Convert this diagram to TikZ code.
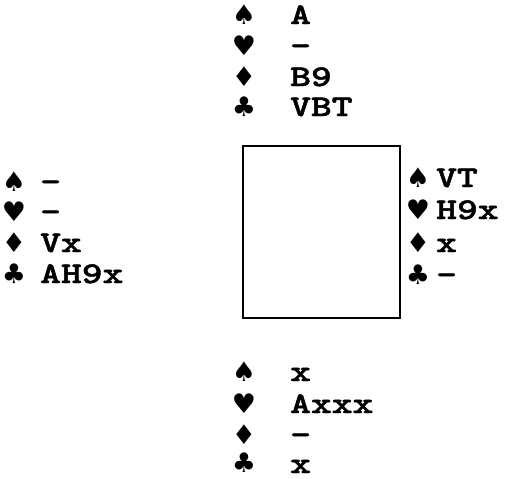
\documentclass[tikz,border=0pt]{standalone}
\usepackage{fontspec}
\newfontfamily\suitfont{DejaVu Sans}
\newfontfamily\handfont[FakeStretch=1.32,FakeBold=1.6]{lmmonolt10-bold.otf}
\begin{document}
\begin{tikzpicture}[x=1pt,y=-1pt,
  suit/.style={inner sep=0pt,anchor=center,font=\suitfont\fontsize{27}{27}\selectfont},
  hand/.style={inner sep=0pt,anchor=base west,font=\handfont\fontsize{30}{30}\selectfont},
  tablebox/.style={draw,line width=1.7pt,minimum width=157pt,minimum height=172pt,inner sep=0pt}]
\useasboundingbox (0,0) rectangle (509,479);
\node[tablebox] (table) at (321.5,232) {};
% North
\node[suit] (ns) at (244,15) {♠};
\node[suit] (nh) at (244,46) {♥};
\node[suit] (nd) at (244,77) {♦};
\node[suit] (nc) at (244,107) {♣};
\node[hand] (nst) at (290,24) {A};
\node[hand] (nht) at (290,55) {-};
\node[hand] (ndt) at (290,86) {B9};
\node[hand] (nct) at (290,116) {VBT};
% West
\node[suit] (ws) at (14,182) {♠};
\node[suit] (wh) at (14,212) {♥};
\node[suit] (wd) at (14,243) {♦};
\node[suit] (wc) at (14,274) {♣};
\node[hand] (wst) at (40,191) {-};
\node[hand] (wht) at (40,221) {-};
\node[hand] (wdt) at (40,252) {Vx};
\node[hand] (wct) at (40,283) {AH9x};
% East
\node[suit] (es) at (418,178) {♠};
\node[suit] (eh) at (418,210) {♥};
\node[suit] (ed) at (418,243) {♦};
\node[suit] (ec) at (418,275) {♣};
\node[hand] (est) at (436,187) {VT};
\node[hand] (eht) at (436,219) {H9x};
\node[hand] (edt) at (436,252) {x};
\node[hand] (ect) at (436,284) {-};
% South
\node[suit] (ss) at (244,372) {♠};
\node[suit] (sh) at (244,404) {♥};
\node[suit] (sd) at (244,435) {♦};
\node[suit] (sc) at (244,463) {♣};
\node[hand] (sst) at (290,381) {x};
\node[hand] (sht) at (290,413) {Axxx};
\node[hand] (sdt) at (290,444) {-};
\node[hand] (sct) at (290,473) {x};
\end{tikzpicture}
\end{document}
